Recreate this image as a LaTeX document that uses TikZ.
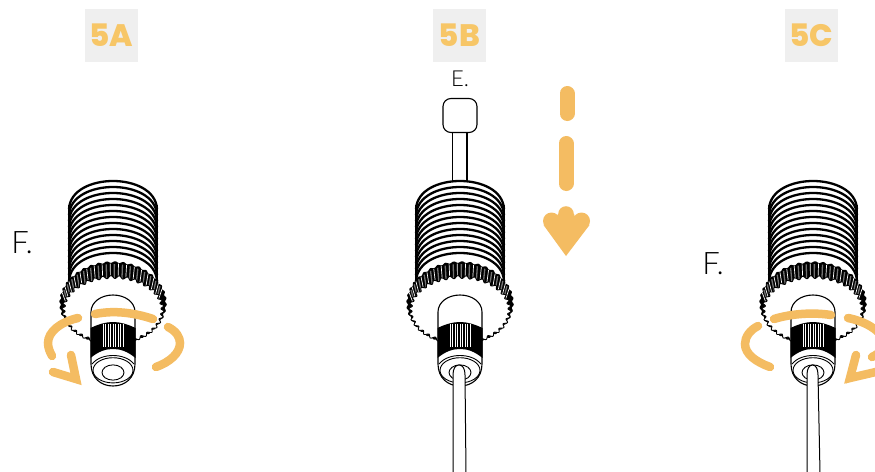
\documentclass[tikz,border=0pt]{standalone}
\usepackage{fontspec}
\setmainfont[Extension=.ttf]{Lato-Light}
\newfontfamily\badgefont[Extension=.ttf]{Poppins-ExtraBold}
\definecolor{accent}{HTML}{F4BC62}
\definecolor{badgetext}{HTML}{F7C667}
\definecolor{badgebg}{HTML}{EFEFEF}
\tikzset{
  outline/.style={draw=black,line width=1.1pt},
  threadline/.style={draw=black,line width=2.3pt},
  swoosh/.style={draw=accent,line width=8.5pt,line cap=round,line join=miter},
  fatdash/.style={draw=accent,line width=15pt,line cap=round},
  badgebox/.style={fill=badgebg,minimum width=53pt,minimum height=53pt,inner sep=0pt,text=badgetext,font=\badgefont\fontsize{31}{31}\selectfont},
  partlabel/.style={inner sep=0pt,text=black},
}
\newcommand{\devicebody}[1]{%
\begin{scope}[shift={(#1,0)}]
  % threaded barrel
  \fill[white] (-44,208) .. controls (-44,190) and (-22,181) .. (0,181) .. controls (22,181) and (44,190) .. (44,208) -- (44,290) -- (-44,290) -- cycle;
  \foreach \yy in {181,187,...,253}{
    \path[threadline] (-44,\yy+28) .. controls (-43,\yy+9) and (-21,\yy) .. (0,\yy) .. controls (21,\yy) and (43,\yy+9) .. (44,\yy+28);
  }
  \draw[threadline,line width=2pt] (-44,205) -- (-44,290);
  \draw[threadline,line width=2pt] (44,205) -- (44,290);
  % knurled back of the wheel
  \fill[black] plot[domain=0:360,samples=360] ({(53+0.8*sin(40*\x))*cos(\x)},{303+(41+0.8*sin(40*\x))*sin(\x)}) -- cycle;
  \foreach \a in {195,204,...,345}{
    \draw[white,line width=.7pt] ({52.5*cos(\a)},{303+39.5*sin(\a)}) -- ({49*cos(\a)},{310+31*sin(\a)});
  }
  \foreach \a in {199.5,208.5,...,340.5}{
    \draw[black!55,line width=1.3pt] ({52*cos(\a)},{303+39*sin(\a)}) -- ({49*cos(\a)},{310+31*sin(\a)});
  }
  % white toothed wheel
  \path[outline,fill=white,line width=.9pt] plot[domain=0:360,samples=540] ({(49.5+1.5*sin(38*\x))*cos(\x)},{310+(33+1.4*sin(38*\x))*sin(\x)}) -- cycle;
  % inner cylinder
  \path[outline,fill=white] (-22,364) -- (-22,312) .. controls (-22,302) and (-12,295) .. (0,295) .. controls (12,295) and (22,302) .. (22,312) -- (22,364) .. controls (22,378) and (12,386) .. (0,386) .. controls (-12,386) and (-22,378) .. (-22,364) -- cycle;
  % black knurl
  \fill[black] (-22.5,328) .. controls (-14,324) and (-7,322) .. (0,322) .. controls (7,322) and (14,324) .. (22.5,328) -- (22.5,358) .. controls (14,351) and (7,349) .. (0,349) .. controls (-7,349) and (-14,351) .. (-22.5,358) -- cycle;
  \foreach \xx in {-10,-7.5,-5,-2.5,0,2.5,5,7.5,10}{
    \draw[white,line width=.3pt] (\xx,323.5) -- (\xx,347);
  }
  % end rings
  \draw[black,line width=.9pt] (-21,364) .. controls (-16,358) and (-8,355.5) .. (0,355.5) .. controls (8,355.5) and (16,358) .. (21,364);
  \path[outline,fill=white,line width=.9pt] (0,370.3) ellipse [x radius=20,y radius=12.6];
  \path[outline,line width=.9pt] (0,372.5) ellipse [x radius=11,y radius=7.6];
\end{scope}}
\newcommand{\cablepart}[4]{% left, right top, right bottom, centre
  \path[outline,fill=white,line width=1pt] (#1,473) -- (#1,375) .. controls (#1,369) and (#1+2,365) .. (#4,365) .. controls (#2-2,365) and (#2,369) .. (#2,375) -- (#3,473);
}
\begin{document}
\begin{tikzpicture}[x=1pt,y=-1pt]
  \useasboundingbox (0,0) rectangle (875,471);
  \clip (0,0) rectangle (875,471);
  \fill[white] (0,0) rectangle (875,471);

  % badges
  \node[badgebox] (badgeA) at (111.5,35.5) {5A};
  \node[badgebox] (badgeB) at (459.5,35.5) {5B};
  \node[badgebox] (badgeC) at (811.5,35.5) {5C};

  % labels
  \node[partlabel,font=\fontsize{31}{31}\selectfont] (labelFa) at (22,243) {F.};
  \node[partlabel,font=\fontsize{31}{31}\selectfont] (labelFc) at (713,264) {F.};
  \node[partlabel,font=\fontsize{22}{22}\selectfont] (labelE) at (460,79) {E.};

  % plunger of 5B
  \path[outline,fill=white] (452.5,130) rectangle (467,183);
  \path[outline,fill=white,rounded corners=8pt] (443,98.5) rectangle (477,132.5);

  \devicebody{113}
  \devicebody{460}
  \devicebody{813}

  \cablepart{453}{465}{466}{459}
  \cablepart{807}{818}{820}{812.5}

  % 5A rotation
  \draw[swoosh] (78,318) .. controls (60,322) and (48,332) .. (48,343) .. controls (48,348) and (50,352) .. (52,356);
  \draw[swoosh] (53,372) -- (76,379) -- (71,355);
  \fill[accent] (80,383.5) -- (70,380) -- (76,372) -- cycle;
  \draw[swoosh] (95,314) .. controls (115,310) and (135,313) .. (153,319);
  \draw[swoosh] (168,327) .. controls (176,331) and (180,337) .. (180,343) .. controls (180,353) and (170,362) .. (156,367);

  % 5B dashed arrow
  \draw[fatdash] (567,93.5) -- (567,113.5);
  \draw[fatdash] (566,143.5) -- (566,183.5);
  \fill[accent] (566,256) -- (543.5,225) -- (553,228) -- (558,214) -- (574,214) -- (579,228) -- (589.5,225) -- cycle;
  \fill[accent] (551.5,221) circle [radius=8.5];
  \fill[accent] (566,214) circle [radius=7.8];
  \fill[accent] (581.5,221) circle [radius=8.5];

  % 5C rotation
  \draw[swoosh] (774,319) .. controls (790,314) and (812,312) .. (831,315);
  \draw[swoosh] (758,326) .. controls (750,330) and (745,337) .. (745,344) .. controls (745,354) and (756,362) .. (770,367);
  \draw[swoosh] (848,318) .. controls (864,321) and (880,330) .. (884,340) .. controls (885,348) and (880,353) .. (872,357);
  \draw[swoosh] (856,355) -- (850,378) -- (880,371);
  \fill[accent] (846,383.5) -- (848,372) -- (857,379) -- cycle;
\end{tikzpicture}
\end{document}
